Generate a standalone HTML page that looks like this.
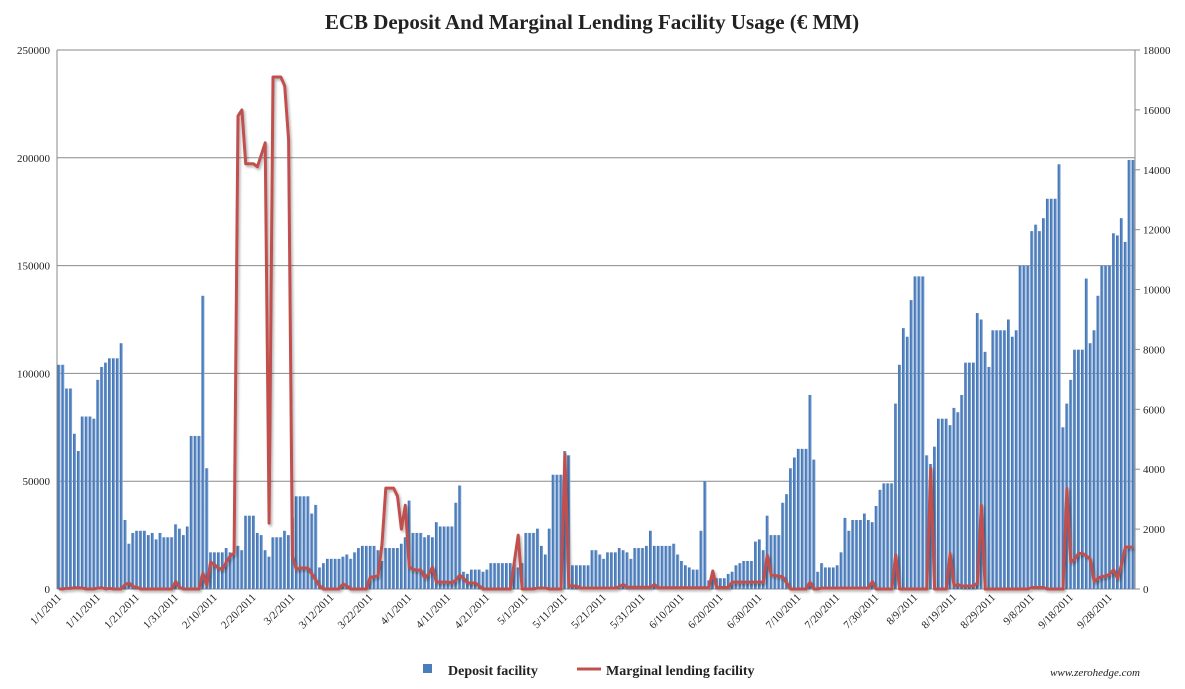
<!DOCTYPE html>
<html><head><meta charset="utf-8"><style>
html,body{margin:0;padding:0;background:#fff;}
svg{display:block;}
</style></head><body>
<svg id="chart" width="1185" height="689" xmlns="http://www.w3.org/2000/svg">
<defs>
<filter id="sh" x="-5%" y="-5%" width="110%" height="110%"><feDropShadow dx="1.5" dy="2" stdDeviation="1.2" flood-color="#000" flood-opacity="0.3"/></filter>
<linearGradient id="bg" x1="0" x2="1" y1="0" y2="0"><stop offset="0" stop-color="#3f70ad"/><stop offset="0.6" stop-color="#5686c4"/><stop offset="1" stop-color="#8fb0d8"/></linearGradient>
</defs>
<text x="592" y="29" text-anchor="middle" font-family="Liberation Serif, serif" font-weight="bold" font-size="21" fill="#222">ECB Deposit And Marginal Lending Facility Usage (€ MM)</text>
<g id="grid"></g><g id="bars"></g><g id="line"></g><g id="axes"></g>
<g>
<rect x="423" y="664" width="9" height="9" fill="#4a7ebb"/>
<text x="448" y="675" font-family="Liberation Serif, serif" font-weight="bold" font-size="14" fill="#222">Deposit facility</text>
<line x1="577" y1="669" x2="601" y2="669" stroke="#c0504d" stroke-width="3"/>
<text x="606" y="675" font-family="Liberation Serif, serif" font-weight="bold" font-size="14" fill="#222">Marginal lending facility</text>
</g>
<text x="1140" y="676" text-anchor="end" font-family="Liberation Serif, serif" font-style="italic" font-size="11" fill="#222">www.zerohedge.com</text>
</svg>
<script>
const deposit = [104,104,93,93,72,64,80,80,80,79,
97,103,105,107,107,107,114,32,21,26,
27,27,27,25,26,23,26,24,24,24,
30,28,25,29,71,71,71,136,56,17,
17,17,17,19,17,16,20,18,34,34,
34,26,25,18,15,24,24,24,27,25,
33,43,43,43,43,35,39,10,12,14,
14,14,14,15,16,14,17,19,20,20,
20,20,18,13,19,19,19,19,21,24,
41,26,26,26,24,25,24,31,29,29,
29,29,40,48,8,7,9,9,9,8,
9,12,12,12,12,12,12,12,10,12,
26,26,26,28,20,16,28,53,53,53,
64,62,11,11,11,11,11,18,18,16,
14,17,17,17,19,18,17,14,19,19,
19,20,27,20,20,20,20,20,21,16,
13,11,10,9,9,27,50,4,5,5,
5,5,7,8,11,12,13,13,13,22,
23,18,34,25,25,25,40,44,56,61,
65,65,65,90,60,8,12,10,10,10,
11,17,33,27,32,32,32,35,32,
31,38.5,46,49,49,49,86,104,121,117,134,145,145,145,62,58,66,79,79,79,76,84,82,90,105,105,105,128,125,110,103,120,120,120,120,125,117,120,150,150,150,166,169,166,172,181,181,181,197,75,86,97,111,111,111,144,114,120,136,150,150,150,165,164,172,161,199,199];
const marginal = [0,0,20,20,40,40,30,0,0,0,30,40,0,20,0,0,0,150,200,80,
60,0,0,0,0,0,0,0,0,0,250,50,0,0,0,0,0,530,130,900,
800,700,650,900,1100,1200,15800,16000,14200,14200,14200,14100,14500,14900,2200,17100,17100,17100,16800,15000,
1100,650,700,700,700,500,300,100,0,0,0,0,0,170,100,0,0,0,0,0,
400,400,450,1500,3370,3370,3370,3100,2000,2800,730,650,630,630,370,500,730,230,230,230,
230,200,300,460,350,200,200,200,100,0,0,0,0,0,0,0,0,900,1800,0,
0,0,0,30,30,30,0,0,0,0,4500,100,100,100,30,30,30,30,30,30,
30,30,30,30,80,150,60,60,60,60,60,60,60,150,40,40,40,40,40,40,
40,40,40,40,40,40,40,40,600,50,50,50,50,230,230,230,230,230,230,230,
230,230,1130,470,450,430,400,200,0,0,0,0,0,230,0,0,30,30,30,30,
30,30,30,30,30,30,30,30,30,250,0,0,0,0,0,1140,0,0,0,0,
0,0,0,0,4030,0,0,0,0,1190,100,150,100,100,100,100,200,2800,0,0,
0,0,0,0,0,0,0,0,0,0,50,50,50,50,0,0,0,0,0,3360,
900,1000,1190,1190,1100,1000,250,350,420,420,500,640,350,800,1400,1400,1400];
const leftTicks = [0,50000,100000,150000,200000,250000];
const rightTicks = [0,2000,4000,6000,8000,10000,12000,14000,16000,18000];
const dateLabels = ["1/1/2011","1/11/2011","1/21/2011","1/31/2011","2/10/2011","2/20/2011","3/2/2011","3/12/2011","3/22/2011","4/1/2011","4/11/2011","4/21/2011","5/1/2011","5/11/2011","5/21/2011","5/31/2011","6/10/2011","6/20/2011","6/30/2011","7/10/2011","7/20/2011","7/30/2011","8/9/2011","8/19/2011","8/29/2011","9/8/2011","9/18/2011","9/28/2011"];

const NS="http://www.w3.org/2000/svg";
const X0=57,X1=1135,YT=50,YB=589,N=deposit.length;
const slot=(X1-X0)/N;
const xAt=i=>X0+slot*(i+0.5);
const yL=v=>YB-v/250000*(YB-YT);
const yR=v=>YB-v/18000*(YB-YT);
function mk(tag,attrs,parent){const e=document.createElementNS(NS,tag);for(const k in attrs)e.setAttribute(k,attrs[k]);parent.appendChild(e);return e;}
const grid=document.getElementById('grid'),bars=document.getElementById('bars'),line=document.getElementById('line'),axes=document.getElementById('axes');
leftTicks.forEach(t=>{
  const g=mk('line',{x1:X0,x2:X1,y1:yL(t),y2:yL(t),stroke:'#8a8a8a','stroke-width':1},grid);
  
  
  const tx=mk('text',{x:50,y:yL(t)+4,'text-anchor':'end','font-family':'Liberation Serif, serif','font-size':11,fill:'#222'},axes);
  tx.textContent=t;
  
  
});
rightTicks.forEach(t=>{
  const tk=mk('line',{x1:X1,x2:X1+5,y1:yR(t),y2:yR(t),stroke:'#8a8a8a'},axes);
  
  
  const tx=mk('text',{x:X1+8,y:yR(t)+4,'font-family':'Liberation Serif, serif','font-size':11,fill:'#222'},axes);
  tx.textContent=t;
  
  
});
const ra=mk('line',{x1:X1,x2:X1,y1:YT,y2:YB,stroke:'#8a8a8a'},axes);


const la=mk('line',{x1:X0,x2:X0,y1:YT,y2:YB,stroke:'#8a8a8a'},axes);


deposit.forEach((v,i)=>{
  const y=yL(v*1000);
  const r=mk('rect',{x:xAt(i)-1.5,y:y,width:3,height:YB-y,fill:'url(#bg)'},bars);
  
  
});
const pts=marginal.map((v,i)=>xAt(i).toFixed(1)+','+yR(v).toFixed(1)).join(' ');
const pl=mk('polyline',{points:pts,fill:'none',stroke:'#c0504d','stroke-width':3,'stroke-linejoin':'round',filter:'url(#sh)'},line);


dateLabels.forEach((d,k)=>{
  const x=xAt(k*10)+3,y=598;
  const tx=mk('text',{x:x,y:y,'text-anchor':'end','font-family':'Liberation Serif, serif','font-size':11,fill:'#222',transform:`rotate(-45 ${x} ${y})`},axes);
  tx.textContent=d;
  
  
});
</script>
</body></html>
